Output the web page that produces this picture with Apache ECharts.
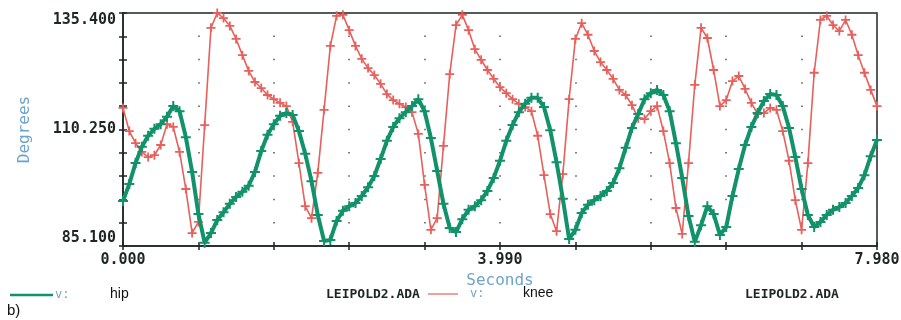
<!DOCTYPE html>
<html>
<head>
<meta charset="utf-8">
<title>hip / knee</title>
<script src="https://cdn.jsdelivr.net/npm/echarts@6/dist/echarts.min.js"></script>
<style>
  html, body { margin: 0; padding: 0; background: #fff; }
  #chartLineBox { width: 901px; height: 320px; }
</style>
</head>
<body>
<div id="chartLineBox"></div>
<script>
var hip = [94.8, 98.5, 103.0, 106.5, 108.9, 110.4, 111.4, 113.0, 115.3, 114.2,
  108.6, 101.1, 92.0, 85.8, 87.9, 90.7, 92.4, 94.2, 95.7, 96.8,
  98.1, 101.1, 105.6, 109.1, 111.4, 113.2, 113.8, 113.4, 109.9, 105.0,
  99.1, 91.8, 86.2, 86.4, 90.5, 92.7, 93.7, 94.4, 95.9, 97.8,
  100.2, 103.9, 107.8, 110.8, 112.7, 114.0, 115.3, 116.8, 114.2, 108.4,
  101.3, 94.2, 89.0, 88.1, 90.9, 92.9, 93.7, 95.0, 97.0, 99.8,
  103.5, 107.8, 111.2, 114.0, 115.8, 117.1, 117.1, 115.1, 110.1, 103.2,
  95.3, 86.6, 88.6, 92.2, 94.0, 95.0, 95.9, 97.0, 98.7, 101.9,
  106.3, 110.6, 113.6, 116.8, 118.1, 118.8, 117.7, 114.2, 107.3, 99.8,
  91.6, 86.0, 89.6, 93.7, 92.0, 87.5, 89.2, 95.9, 101.7, 106.9,
  110.8, 113.8, 116.4, 117.9, 117.7, 115.3, 110.6, 104.3, 97.4, 91.8,
  89.2, 90.3, 91.8, 92.9, 93.5, 94.4, 95.9, 97.6, 100.4, 104.5,
  108.0];

var knee = [114.9, 109.9, 107.3, 105.4, 104.3, 104.7, 106.9, 111.4, 110.8, 105.4,
  97.4, 87.9, 90.3, 111.2, 132.2, 135.4, 134.3, 132.6, 129.8, 126.3,
  122.9, 120.5, 119.2, 117.7, 116.8, 116.0, 115.3, 111.9, 103.0, 93.7,
  91.1, 100.9, 114.5, 128.3, 134.8, 135.0, 131.7, 128.3, 125.5, 123.5,
  122.0, 120.1, 117.9, 116.6, 115.8, 115.1, 114.0, 109.3, 98.3, 88.6,
  91.1, 106.7, 122.2, 132.8, 135.0, 131.7, 127.6, 125.3, 123.1, 121.2,
  119.4, 118.1, 116.8, 115.8, 115.1, 114.2, 108.9, 100.4, 92.0, 88.3,
  100.6, 116.8, 129.8, 133.2, 130.7, 127.2, 124.8, 123.1, 121.2, 118.8,
  117.7, 115.5, 112.7, 112.5, 114.2, 115.3, 109.9, 103.0, 93.3, 87.7,
  103.0, 119.9, 132.2, 130.0, 123.1, 115.3, 116.6, 120.7, 121.8, 119.0,
  116.0, 113.6, 113.8, 114.9, 114.5, 109.9, 103.5, 95.0, 88.6, 103.0,
  122.5, 133.9, 134.8, 132.8, 131.5, 133.9, 130.7, 126.3, 122.5, 118.8,
  115.3];

var tEnd = 7.98;
var dt = tEnd / (hip.length - 1);
var seconds = hip.map(function (_, i) { return +(i * dt).toFixed(4); });

// only these ticks carry a label
var xTickLabels = [0, 3.99, 7.98];
var yTickLabels = [85.1, 110.25, 135.4];
var yMin = 85.1, yMax = 135.4;

var green = '#12926a';
var red = '#e8605c';
var blue = '#6fa3cc';
var ink = '#1e2622';
var plus = 'path://M4,0H6V4H10V6H6V10H4V6H0V4H4Z';
var mono = '"DejaVu Sans Mono", monospace';

function pick(list) {
  return function (v) {
    for (var i = 0; i < list.length; i++) {
      if (Math.abs(list[i] - v) < 1e-6) return v.toFixed(3);
    }
    return '';
  };
}

function pairs(vals) {
  return vals.map(function (v, i) { return [seconds[i], v]; });
}

var chartLine = echarts.init(document.getElementById('chartLineBox'));

var option = {
  animation: false,
  backgroundColor: '#fff',
  grid: {
    left: 123, top: 13, right: 24, bottom: 74,
    outerBoundsMode: 'none',
    show: true, borderColor: ink, borderWidth: 1.5
  },
  xAxis: [{
    type: 'value',
    min: 0, max: tEnd, interval: tEnd / 10,
    name: 'Seconds',
    nameLocation: 'middle',
    nameGap: 21,
    nameTextStyle: { color: blue, fontFamily: mono, fontSize: 16 },
    axisLine: { lineStyle: { color: ink, width: 1.5 } },
    axisTick: { length: 4, lineStyle: { color: ink, width: 1.5 } },
    axisLabel: {
      formatter: pick(xTickLabels),
      color: ink, fontFamily: mono, fontWeight: 'bold', fontSize: 15, margin: 7
    },
    splitLine: {   // dotted grid: dots land on every y tick
      show: true,
      lineStyle: { color: '#555', width: 1.5, type: [1.5, 21.8], dashOffset: 0.75 }
    }
  }, {
    type: 'value',
    position: 'bottom',
    min: 0, max: tEnd, interval: tEnd / 10,
    axisLine: { show: false },
    axisTick: { inside: true, length: 4, lineStyle: { color: ink, width: 1.5 } },
    axisLabel: { show: false },
    splitLine: { show: false }
  }],
  yAxis: [{
    type: 'value',
    min: yMin, max: yMax, interval: (yMax - yMin) / 10,
    name: 'Degrees',
    nameLocation: 'middle',
    nameGap: 90,
    nameRotate: 90,
    nameTextStyle: { color: blue, fontFamily: mono, fontSize: 16 },
    axisLine: { show: true, lineStyle: { color: ink, width: 1.5 } },
    axisTick: { show: true, length: 4, lineStyle: { color: ink, width: 1.5 } },
    axisLabel: {
      formatter: pick(yTickLabels),
      color: ink, fontFamily: mono, fontWeight: 'bold', fontSize: 15, margin: 7,
      verticalAlignMaxLabel: 'top', verticalAlignMinLabel: 'bottom'
    },
    splitLine: { show: false }
  }, {
    type: 'value',
    position: 'left',
    min: yMin, max: yMax, interval: (yMax - yMin) / 10,
    axisLine: { show: false },
    axisTick: { show: true, inside: true, length: 4, lineStyle: { color: ink, width: 1.5 } },
    axisLabel: { show: false },
    splitLine: { show: false }
  }],
  series: [
    {
      name: 'knee',
      type: 'line',
      data: pairs(knee),
      symbol: plus,
      symbolSize: 9,
      showAllSymbol: true,
      lineStyle: { color: red, width: 1.6 },
      itemStyle: { color: red },
      z: 2
    },
    {
      name: 'hip',
      type: 'line',
      data: pairs(hip),
      symbol: plus,
      symbolSize: 10,
      showAllSymbol: true,
      lineStyle: { color: green, width: 4 },
      itemStyle: { color: green },
      z: 3
    }
  ],
  // the plotter's own legend line under the axis
  graphic: [
    { type: 'line', shape: { x1: 10, y1: 295, x2: 53, y2: 295 }, style: { stroke: green, lineWidth: 2.5 } },
    { type: 'text', left: 55, top: 289, style: { text: 'v:', fill: blue, font: '12px ' + mono } },
    { type: 'text', left: 110, top: 287, style: { text: 'hip', fill: '#111', font: '14px "Liberation Sans", sans-serif' } },
    { type: 'text', left: 326, top: 288, style: { text: 'LEIPOLD2.ADA', fill: ink, font: 'bold 13px ' + mono } },
    { type: 'line', shape: { x1: 428, y1: 294, x2: 458, y2: 294 }, style: { stroke: red, lineWidth: 1.2 } },
    { type: 'text', left: 470, top: 288, style: { text: 'v:', fill: blue, font: '12px ' + mono } },
    { type: 'text', left: 523, top: 286, style: { text: 'knee', fill: '#111', font: '14px "Liberation Sans", sans-serif' } },
    { type: 'text', left: 745, top: 288, style: { text: 'LEIPOLD2.ADA', fill: ink, font: 'bold 13px ' + mono } },
    { type: 'text', left: 7, top: 303, style: { text: 'b)', fill: '#111', font: '15px "Liberation Sans", sans-serif' } }
  ]
};

chartLine.setOption(option);
</script>
</body>
</html>
